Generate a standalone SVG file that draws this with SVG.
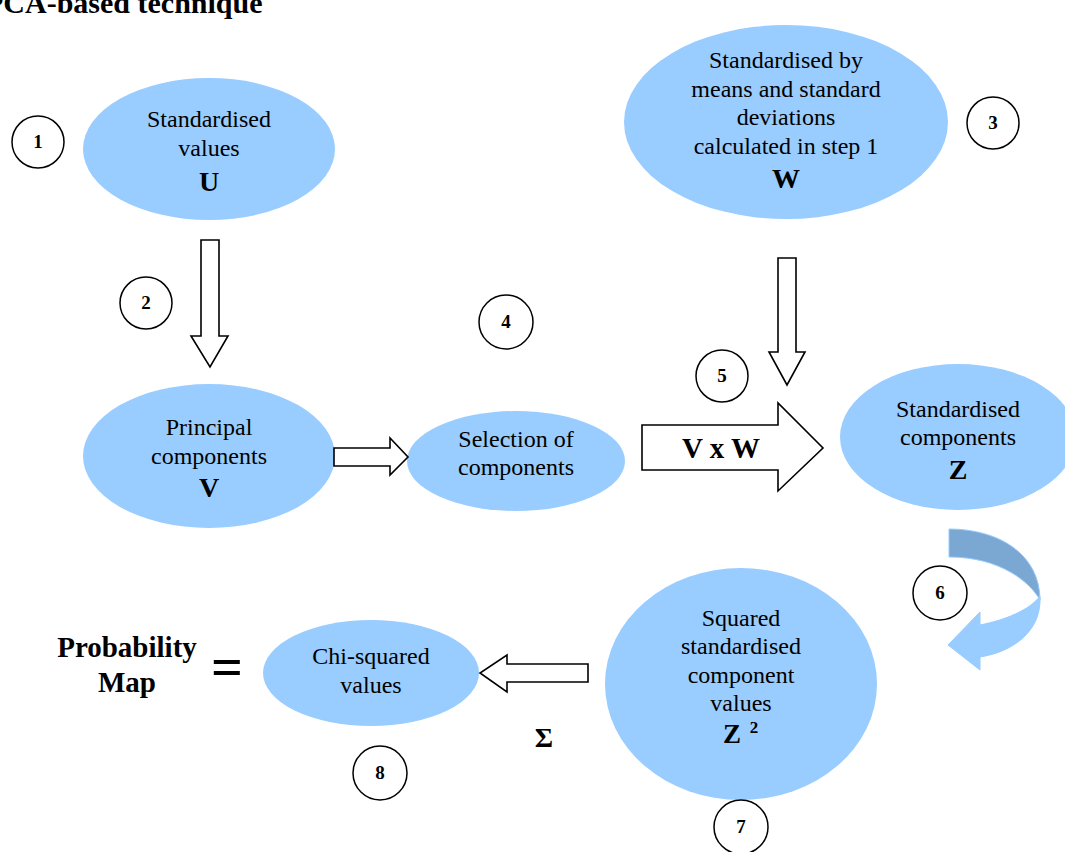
<svg xmlns="http://www.w3.org/2000/svg" width="1065" height="852" viewBox="0 0 1065 852">
<style>
.bg{fill:#ffffff}
.node{fill:#99CCFF;stroke:none}
.t{font-family:"Liberation Serif","Times New Roman",serif;font-size:24px;fill:#000;text-anchor:middle}
.b{font-family:"Liberation Serif","Times New Roman",serif;font-weight:bold;fill:#000;text-anchor:middle}
.num{fill:#fff;stroke:#000;stroke-width:1.5}
.nt{font-family:"Liberation Serif","Times New Roman",serif;font-weight:bold;font-size:19px;fill:#000;text-anchor:middle}
.arr{fill:#fff;stroke:#000;stroke-width:1.6;stroke-linejoin:miter}
</style>
<rect class="bg" x="0" y="0" width="1065" height="852"/>
<text class="b" x="-15" y="13" font-size="30" style="text-anchor:start">PCA-based technique</text>

<g id="node-U">
<ellipse class="node" cx="209" cy="149" rx="126" ry="71"/>
<text class="t" x="209" y="127">Standardised</text>
<text class="t" x="209" y="156">values</text>
<text class="b" x="209" y="191" font-size="28">U</text>
</g>
<g id="node-W">
<ellipse class="node" cx="786" cy="122" rx="162" ry="97"/>
<text class="t" x="786" y="68">Standardised by</text>
<text class="t" x="786" y="97">means and standard</text>
<text class="t" x="786" y="125">deviations</text>
<text class="t" x="786" y="154">calculated in step 1</text>
<text class="b" x="786" y="188" font-size="28">W</text>
</g>
<g id="node-V">
<ellipse class="node" cx="209" cy="456" rx="126" ry="72"/>
<text class="t" x="209" y="435">Principal</text>
<text class="t" x="209" y="464">components</text>
<text class="b" x="209" y="497" font-size="28">V</text>
</g>
<g id="node-selection">
<ellipse class="node" cx="516" cy="461" rx="109" ry="50"/>
<text class="t" x="516" y="447">Selection of</text>
<text class="t" x="516" y="475">components</text>
</g>
<g id="node-Z">
<ellipse class="node" cx="958" cy="437" rx="118" ry="73"/>
<text class="t" x="958" y="417">Standardised</text>
<text class="t" x="958" y="445">components</text>
<text class="b" x="958" y="479" font-size="28">Z</text>
</g>
<g id="node-Z2">
<ellipse class="node" cx="741" cy="684" rx="136" ry="116"/>
<text class="t" x="741" y="626">Squared</text>
<text class="t" x="741" y="654">standardised</text>
<text class="t" x="741" y="683">component</text>
<text class="t" x="741" y="711">values</text>
<text class="b" x="732" y="743" font-size="27">Z</text>
<text class="b" x="754" y="733" font-size="17">2</text>
</g>
<g id="node-chi">
<ellipse class="node" cx="371" cy="673" rx="108" ry="53"/>
<text class="t" x="371" y="664">Chi-squared</text>
<text class="t" x="371" y="693">values</text>
</g>
<g id="node-map">
<text class="b" x="127" y="657" font-size="29">Probability</text>
<text class="b" x="127" y="692" font-size="29">Map</text>
<text class="b" x="227" y="686" font-size="56">=</text>
</g>

<g id="steps">
<circle class="num" cx="38" cy="142" r="26"/><text class="nt" x="38" y="148">1</text>
<circle class="num" cx="146" cy="303" r="26"/><text class="nt" x="146" y="309">2</text>
<circle class="num" cx="993" cy="123" r="26"/><text class="nt" x="993" y="129">3</text>
<circle class="num" cx="506" cy="322" r="27"/><text class="nt" x="506" y="328">4</text>
<circle class="num" cx="722" cy="376" r="26"/><text class="nt" x="722" y="382">5</text>
<circle class="num" cx="940" cy="593" r="27"/><text class="nt" x="940" y="599">6</text>
<circle class="num" cx="741" cy="827" r="27"/><text class="nt" x="741" y="833">7</text>
<circle class="num" cx="380" cy="773" r="27"/><text class="nt" x="380" y="779">8</text>
</g>

<g id="connectors">
<polygon class="arr" points="201,240 219,240 219,336 228,336 210,367 191,336 201,336"/>
<polygon class="arr" points="778,258 796,258 796,352 805,352 787,385 769,352 778,352"/>
<polygon class="arr" points="334,448 390,448 390,438 408,457 390,475 390,466 334,466"/>
<polygon class="arr" points="642,425 778,425 778,403 823,448 778,491 778,470 642,470"/>
<text class="b" x="721" y="458" font-size="29">V x W</text>
<polygon class="arr" points="588,664 507,664 507,655 480,673 507,692 507,682 588,682"/>
<text class="b" x="544" y="747" font-size="28">Σ</text>
<path d="M949,529 C1000,529 1040,555 1040,600 C1030,582 1000,557 949,557 Z" fill="#7BA7D3" stroke="#99CCFF" stroke-width="1"/>
<path d="M1040,596 C1042,632 1012,652 980,657 L980,670 L948,645 L980,612 L980,625 C1005,620 1030,610 1040,596 Z" fill="#99CCFF" stroke="#99CCFF" stroke-width="1"/>
</g>
</svg>
